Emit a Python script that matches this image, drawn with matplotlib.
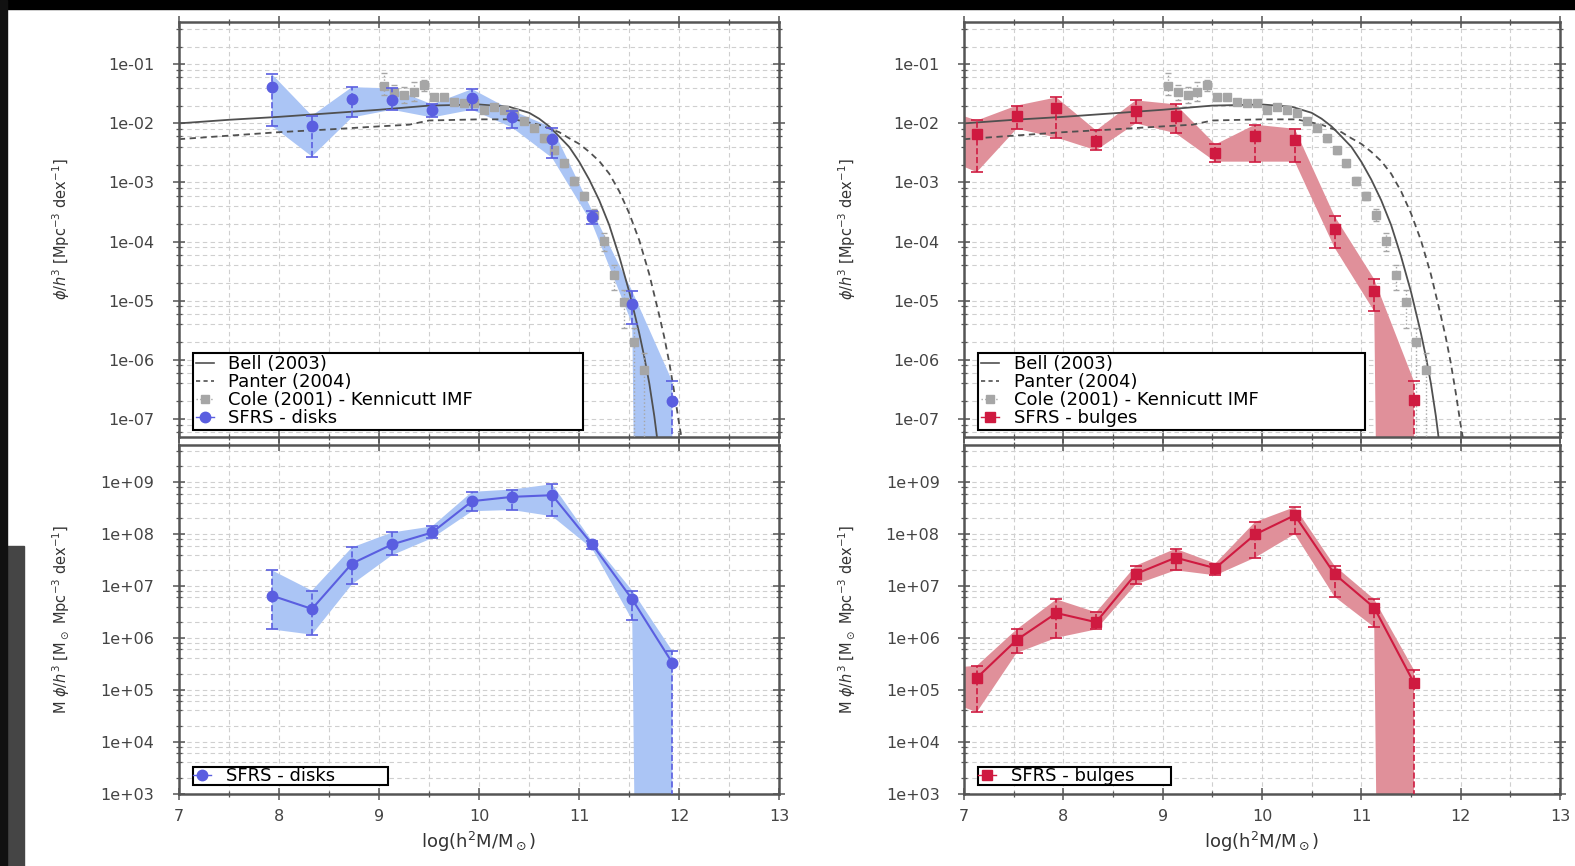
import numpy as np
import matplotlib
matplotlib.use('Agg')
import matplotlib.pyplot as plt
from matplotlib.ticker import FixedLocator, MultipleLocator, LogLocator, NullFormatter, FuncFormatter
from matplotlib.lines import Line2D
from matplotlib.patches import Rectangle

# ---------------- data ----------------
# SFRS disks
x_disk = [7.93, 8.33, 8.73, 9.13, 9.53, 9.93, 10.33, 10.73, 11.13, 11.53, 11.93]
phi_disk = [4.1e-2, 8.9e-3, 2.6e-2, 2.5e-2, 1.66e-2, 2.7e-2, 1.27e-2, 5.5e-3, 2.6e-4, 8.9e-6, 2.0e-7]
phi_disk_lo = [9.1e-3, 2.75e-3, 1.26e-2, 1.7e-2, 1.26e-2, 1.7e-2, 8.5e-3, 2.6e-3, 2.0e-4, 4.0e-6, 1e-60]
phi_disk_hi = [6.8e-2, 1.35e-2, 4.1e-2, 3.9e-2, 2.1e-2, 3.8e-2, 1.65e-2, 8.5e-3, 3.3e-4, 1.45e-5, 4.3e-7]
mphi_disk = [6.5e6, 3.6e6, 2.7e7, 6.3e7, 1.07e8, 4.3e8, 5.2e8, 5.6e8, 6.3e7, 5.5e6, 3.3e5]
mphi_disk_lo = [1.45e6, 1.15e6, 1.07e7, 3.9e7, 8.3e7, 2.75e8, 2.9e8, 2.2e8, 5.2e7, 2.2e6, 1e-60]
mphi_disk_hi = [2.0e7, 8.1e6, 5.5e7, 1.07e8, 1.4e8, 6.5e8, 7.2e8, 9.1e8, 7.2e7, 8.1e6, 5.6e5]

# SFRS bulges (first entry lies just left of the axis and only shapes the band)
x_bulge = [6.73, 7.13, 7.53, 7.93, 8.33, 8.73, 9.13, 9.53, 9.93, 10.33, 10.73, 11.13, 11.53]
phi_bulge = [7.0e-3, 6.7e-3, 1.35e-2, 1.8e-2, 5.1e-3, 1.65e-2, 1.35e-2, 3.2e-3, 6.0e-3, 5.3e-3, 1.6e-4, 1.45e-5, 2.1e-7]
phi_bulge_lo = [2.8e-3, 1.5e-3, 8.1e-3, 5.75e-3, 3.5e-3, 1.0e-2, 6.8e-3, 2.25e-3, 2.25e-3, 2.25e-3, 7.9e-5, 6.6e-6, 1e-60]
phi_bulge_hi = [1.86e-2, 1.12e-2, 2.0e-2, 2.75e-2, 7.6e-3, 2.45e-2, 2.1e-2, 4.4e-3, 9.5e-3, 8.1e-3, 2.7e-4, 2.3e-5, 4.3e-7]
mphi_bulge = [1.2e5, 1.7e5, 9.1e5, 3.0e6, 2.0e6, 1.7e7, 3.5e7, 2.2e7, 9.8e7, 2.3e8, 1.7e7, 3.8e6, 1.35e5]
mphi_bulge_lo = [7.0e4, 3.7e4, 5.1e5, 1.0e6, 1.45e6, 1.07e7, 2.0e7, 1.6e7, 3.5e7, 1.0e8, 6.2e6, 1.6e6, 1e-60]
mphi_bulge_hi = [2.5e5, 2.9e5, 1.45e6, 5.5e6, 3.1e6, 2.45e7, 5.2e7, 2.7e7, 1.7e8, 3.3e8, 2.45e7, 5.5e6, 2.4e5]

# Cole (2001) - Kennicutt IMF
cole_x = [9.05, 9.15, 9.25, 9.35, 9.45, 9.55, 9.65, 9.75, 9.85, 9.95, 10.05, 10.15, 10.25, 10.35,
          10.45, 10.55, 10.65, 10.75, 10.85, 10.95, 11.05, 11.15, 11.25, 11.35, 11.45, 11.55, 11.65]
cole_phi = [0.043, 0.034, 0.030, 0.034, 0.045, 0.028, 0.028, 0.023, 0.022, 0.022, 0.017, 0.019, 0.017, 0.015,
            0.011, 0.0083, 0.0056, 0.0035, 0.0021, 0.00107, 5.9e-4, 2.8e-4, 1.03e-4, 2.7e-5, 9.4e-6, 2.0e-6, 6.7e-7]
cole_lo = [0.030, 0.025, 0.022, 0.024, 0.035, 0.025, 0.025, 0.021, 0.020, 0.020, 0.0155, 0.017, 0.0155, 0.0135,
           0.0099, 0.0074, 0.0049, 0.0030, 0.0018, 9.0e-4, 5.0e-4, 2.2e-4, 7.0e-5, 1.5e-5, 3.5e-6, 1e-60, 1e-60]
cole_hi = [0.071, 0.045, 0.042, 0.050, 0.055, 0.032, 0.031, 0.025, 0.024, 0.024, 0.019, 0.021, 0.019, 0.0165,
           0.0122, 0.0093, 0.0063, 0.0040, 0.0024, 0.00125, 7.0e-4, 3.5e-4, 1.4e-4, 4.0e-5, 1.5e-5, 3.5e-6, 1.3e-6]

# Bell (2003) and Panter (2004) curves
bell_x = [7.0, 7.5, 8.0, 8.5, 9.0, 9.5, 10.0, 10.3, 10.5, 10.6, 10.7, 10.8, 10.9, 11.0, 11.1, 11.2,
          11.3, 11.4, 11.5, 11.55, 11.6, 11.65, 11.7, 11.75, 11.78]
bell_phi = [1.00e-2, 1.15e-2, 1.29e-2, 1.48e-2, 1.70e-2, 2.0e-2, 2.09e-2, 1.91e-2, 1.51e-2, 1.20e-2, 8.9e-3,
            6.0e-3, 4.0e-3, 2.24e-3, 1.12e-3, 5.0e-4, 1.9e-4, 5.6e-5, 1.41e-5, 6.3e-6, 2.8e-6, 1.12e-6,
            4.0e-7, 1.12e-7, 4.5e-8]
panter_x = [7.0, 7.5, 8.0, 8.5, 9.0, 9.3, 9.5, 10.0, 10.35, 10.6, 10.8, 10.9, 11.0, 11.1, 11.2, 11.3,
            11.4, 11.5, 11.6, 11.7, 11.8, 11.85, 11.9, 11.95, 12.0, 12.03]
panter_phi = [5.4e-3, 6.2e-3, 7.1e-3, 7.9e-3, 8.9e-3, 9.5e-3, 1.12e-2, 1.17e-2, 1.17e-2, 9.5e-3, 7.1e-3,
              5.6e-3, 4.5e-3, 3.3e-3, 2.3e-3, 1.41e-3, 7.1e-4, 3.0e-4, 1.05e-4, 2.8e-5, 5.6e-6, 2.4e-6,
              8.9e-7, 2.8e-7, 7.9e-8, 4.0e-8]

top_ticks = [1e-7, 1e-6, 1e-5, 1e-4, 1e-3, 1e-2, 1e-1]
bot_ticks = [1e3, 1e4, 1e5, 1e6, 1e7, 1e8, 1e9]
x_ticks = [7, 8, 9, 10, 11, 12, 13]

# ---------------- style ----------------
plt.rcParams['font.family'] = ['DejaVu Sans']
DISK = '#5a5ee0'
DISK_BAND = '#abc5f5'
BULGE = '#cf1a40'
BULGE_BAND = '#e0909a'
COLE = '#a6a6a6'
CURVE = '#505050'

W, H = 1575, 866
fig = plt.figure(figsize=(W / 100, H / 100), dpi=100)
fig.patch.set_facecolor('white')

# screenshot border
fig.patches.append(Rectangle((0, 1 - 9 / H), 1, 9 / H, transform=fig.transFigure, color='black', zorder=-5))
fig.patches.append(Rectangle((0, 0), 7 / W, 1, transform=fig.transFigure, color='#111111', zorder=-5))
fig.patches.append(Rectangle((0, 0), 24 / W, 320 / H, transform=fig.transFigure, color='#454545', zorder=-6))


def px_axes(x0, y0, x1, y1):
    return fig.add_axes([x0 / W, 1 - y1 / H, (x1 - x0) / W, (y1 - y0) / H])


def style(ax, ylim, ticks, show_xlabels):
    ax.set_yscale('log')
    ax.set_xlim(7, 13)
    ax.set_ylim(*ylim)
    ax.xaxis.set_major_locator(FixedLocator(x_ticks))
    ax.xaxis.set_minor_locator(MultipleLocator(0.5))
    ax.yaxis.set_major_locator(FixedLocator(ticks))
    ax.yaxis.set_minor_locator(LogLocator(base=10, subs=(2, 4, 6, 8), numticks=40))
    ax.yaxis.set_minor_formatter(NullFormatter())
    ax.yaxis.set_major_formatter(FuncFormatter(lambda v, p: f"{v:.0e}"))
    ax.grid(True, which='both', color='#cfcfcf', linestyle=(0, (4, 3)), linewidth=0.8)
    ax.set_axisbelow(True)
    for s in ax.spines.values():
        s.set_color('#555555')
        s.set_linewidth(1.8)
    ax.tick_params(which='both', direction='inout', top=True, right=True, color='#555555')
    ax.tick_params(which='major', length=9, width=1.1, labelsize=11.5, labelcolor='#444444')
    ax.tick_params(which='minor', length=5, width=0.9)
    ax.tick_params(axis='y', which='major', pad=13)
    ax.tick_params(axis='x', which='major', pad=7)
    if not show_xlabels:
        ax.tick_params(axis='x', labelbottom=False)


def dashed_errorbar(ax, x, y, lo, hi, fmt, color, ms, ls, cap, elw=1.2, z=4, **kw):
    y = np.array(y)
    lo = np.array(lo)
    hi = np.array(hi)
    eb = ax.errorbar(x, y, yerr=[y - lo, hi - y], fmt=fmt, color=color, ecolor=color, ms=ms,
                     elinewidth=elw, capsize=cap, capthick=elw, zorder=z, **kw)
    eb[2][0].set_linestyle(ls)
    return eb


top_ylim = (4.92e-8, 0.518)
bot_ylim = (1e3, 5.19e9)

panels = [
    ((178.8, 22.1, 779.4, 437), (178.8, 445, 779.4, 793.5), x_disk, phi_disk, phi_disk_lo, phi_disk_hi,
     mphi_disk, mphi_disk_lo, mphi_disk_hi, DISK, DISK_BAND, 'o', 'SFRS - disks', 0),
    ((964, 22.1, 1560, 437), (964, 445, 1560, 793.5), x_bulge, phi_bulge, phi_bulge_lo, phi_bulge_hi,
     mphi_bulge, mphi_bulge_lo, mphi_bulge_hi, BULGE, BULGE_BAND, 's', 'SFRS - bulges', 1),
]

for (tp, bp, x, phi, lo, hi, mphi, mlo, mhi, col, band, mk, name, first) in panels:
    ms = 7.5
    # ---- top panel ----
    ax = px_axes(*tp)
    style(ax, top_ylim, top_ticks, False)
    ax.fill_between(x, lo, hi, color=band, lw=0, zorder=1)
    ax.plot(bell_x, bell_phi, color=CURVE, lw=1.3, zorder=2)
    ax.plot(panter_x, panter_phi, color=CURVE, lw=1.3, ls=(0, (3.5, 2.5)), zorder=2)
    dashed_errorbar(ax, cole_x, cole_phi, cole_lo, cole_hi, 's', COLE, 5.8, ':', 2, elw=1.0, z=3)
    dashed_errorbar(ax, x[first:], phi[first:], lo[first:], hi[first:], mk, col, ms, '--', 4, z=4)
    ax.set_ylabel(r'$\phi/h^3$ [Mpc$^{-3}$ dex$^{-1}$]', fontsize=10.5, color='#333333')
    ax.yaxis.set_label_coords(-0.178, 0.5)
    handles = [
        Line2D([], [], color=CURVE, lw=1.2),
        Line2D([], [], color=CURVE, lw=1.2, ls=(0, (2.5, 2))),
        Line2D([], [], color=COLE, marker='s', ms=5.5, ls=':', lw=1),
        Line2D([], [], color=col, marker=mk, ms=7.5, ls='-', lw=1),
    ]
    labels = ['Bell (2003)', 'Panter (2004)', 'Cole (2001) - Kennicutt IMF', name]
    leg = ax.legend(handles, labels, loc='lower left', bbox_to_anchor=(0.024, 0.017, 0.649, 0.19),
                    mode='expand', fontsize=13, labelspacing=0.0, borderpad=0.15, handlelength=1.0,
                    handletextpad=0.8, fancybox=False, framealpha=1, edgecolor='black', borderaxespad=0)
    leg.get_frame().set_linewidth(1.5)

    # ---- bottom panel ----
    axb = px_axes(*bp)
    style(axb, bot_ylim, bot_ticks, True)
    axb.fill_between(x, mlo, mhi, color=band, lw=0, zorder=1)
    axb.plot(x[first:], mphi[first:], color=col, lw=1.5, zorder=3)
    dashed_errorbar(axb, x[first:], mphi[first:], mlo[first:], mhi[first:], mk, col, ms, '--', 4, z=4)
    axb.set_ylabel(r'M $\phi/h^3$ [M$_\odot$ Mpc$^{-3}$ dex$^{-1}$]', fontsize=10.5, color='#333333')
    axb.yaxis.set_label_coords(-0.178, 0.5)
    axb.set_xlabel(r'log(h$^2$M/M$_\odot$)', fontsize=13, color='#333333')
    axb.xaxis.set_label_coords(0.5, -0.105)
    lb = axb.legend([Line2D([], [], color=col, marker=mk, ms=7.5, ls='-', lw=1)], [name],
                    loc='lower left', bbox_to_anchor=(0.024, 0.024, 0.324, 0.06), mode='expand',
                    fontsize=13, borderpad=0.0, handlelength=1.0, handletextpad=0.8, fancybox=False,
                    framealpha=1, edgecolor='black', borderaxespad=0)
    lb.get_frame().set_linewidth(1.5)

fig.savefig('out.png', dpi=100, facecolor=fig.get_facecolor())
